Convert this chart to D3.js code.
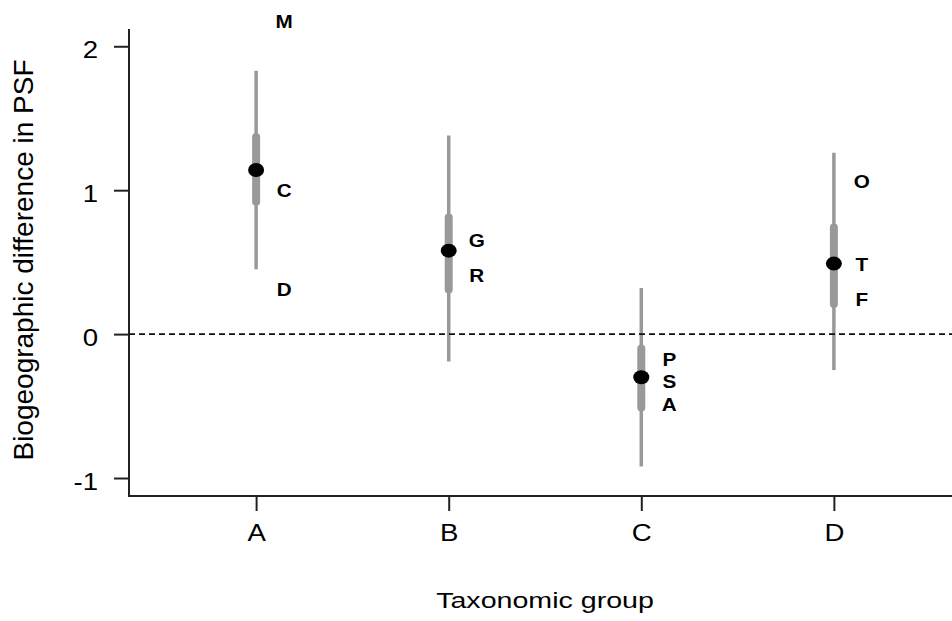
<!DOCTYPE html>
<html>
<head>
<meta charset="utf-8">
<script src="https://cdn.jsdelivr.net/npm/d3@7"></script>
<style>
    body { margin: 0; background: #fff; }
    text { font-family: "Liberation Sans", Arial, sans-serif; fill: #000; }
</style>
</head>
<body>
<div id="graph"></div>
<script>
// values
const groups = ["A", "B", "C", "D"];
const estimate = [1.14, 0.58, -0.30, 0.49];
const outerLow = [0.45, -0.19, -0.92, -0.25];
const outerHigh = [1.83, 1.38, 0.32, 1.26];
const innerLow = [0.92, 0.31, -0.51, 0.21];
const innerHigh = [1.37, 0.81, -0.10, 0.74];

const taxonLabels = ["M", "C", "D", "G", "R", "P", "S", "A", "O", "T", "F"];
const taxonGroup = ["A", "A", "A", "B", "B", "C", "C", "C", "D", "D", "D"];
const taxonValue = [2.17, 1.0, 0.31, 0.65, 0.41, -0.18, -0.33, -0.49, 1.06, 0.48, 0.24];

const yTicks = [-1, 0, 1, 2];

var width = 952,
    height = 621;

var svg = d3.select("#graph")
    .append("svg")
    .attr("width", width)
    .attr("height", height);

// group index 1..4 on a linear scale, like base R
var x = d3.scaleLinear()
    .domain([0.34, 4.66])
    .range([129, 961]);

var y = d3.scaleLinear()
    .domain([-1.125, 2.12])
    .range([496, 29]);

var xPos = function (g) {
    return x(groups.indexOf(g) + 1);
};

// the source picture is stretched sideways, so horizontal text gets widened
function widen(sel, sx) {
    sel.each(function () {
        var t = d3.select(this);
        var tx = +t.attr("x") || 0;
        var ty = +t.attr("y") || 0;
        t.attr("x", 0).attr("y", 0)
            .attr("transform", "translate(" + tx + "," + ty + ") scale(" + sx + ",1)");
    });
}

// y axis
var yAxis = svg.append("g")
    .attr("transform", "translate(129,0)")
    .call(d3.axisLeft(y).tickValues(yTicks).tickSize(15).tickPadding(16)
        .tickFormat(function (d) { return String(d); }));
yAxis.select(".domain").remove();
yAxis.selectAll("line").attr("stroke", "#222").attr("stroke-width", 2);
yAxis.selectAll("text")
    .attr("font-size", 23)
    .attr("dy", "0.5em")
    .attr("font-family", "Liberation Sans, Arial, sans-serif")
    .attr("fill", "#111")
    .call(widen, 1.2);

// x axis
var xAxis = svg.append("g")
    .attr("transform", "translate(0,496)")
    .call(d3.axisBottom(x).tickValues([1, 2, 3, 4]).tickSize(15).tickPadding(14)
        .tickFormat(function (d) { return groups[d - 1]; }));
xAxis.select(".domain").remove();
xAxis.selectAll("line").attr("stroke", "#222").attr("stroke-width", 2);
xAxis.selectAll("text")
    .attr("font-size", 23)
    .attr("font-family", "Liberation Sans, Arial, sans-serif")
    .attr("fill", "#111")
    .call(widen, 1.2);

// L shaped frame
svg.append("path")
    .attr("d", "M129," + y.range()[1] + "V" + y.range()[0] + "H" + width)
    .attr("fill", "none")
    .attr("stroke", "#222")
    .attr("stroke-width", 2);

// outer intervals
svg.selectAll(".outer")
    .data(groups)
    .enter()
    .append("line")
    .attr("class", "outer")
    .attr("x1", function (d) { return xPos(d); })
    .attr("x2", function (d) { return xPos(d); })
    .attr("y1", function (d, i) { return y(outerLow[i]); })
    .attr("y2", function (d, i) { return y(outerHigh[i]); })
    .attr("stroke", "#999")
    .attr("stroke-width", 3.5);

// inner intervals
svg.selectAll(".inner")
    .data(groups)
    .enter()
    .append("line")
    .attr("class", "inner")
    .attr("x1", function (d) { return xPos(d); })
    .attr("x2", function (d) { return xPos(d); })
    .attr("y1", function (d, i) { return y(innerLow[i]); })
    .attr("y2", function (d, i) { return y(innerHigh[i]); })
    .attr("stroke", "#999")
    .attr("stroke-width", 8)
    .attr("stroke-linecap", "round");

// zero line
svg.append("line")
    .attr("x1", 129)
    .attr("x2", width)
    .attr("y1", y(0))
    .attr("y2", y(0))
    .attr("stroke", "#111")
    .attr("stroke-width", 1.6)
    .attr("stroke-dasharray", "6,4");

// point estimates
svg.selectAll(".est")
    .data(groups)
    .enter()
    .append("ellipse")
    .attr("class", "est")
    .attr("cx", function (d) { return xPos(d); })
    .attr("cy", function (d, i) { return y(estimate[i]); })
    .attr("rx", 8)
    .attr("ry", 7)
    .attr("fill", "#000");

// taxon letters
svg.selectAll(".taxon")
    .data(taxonLabels)
    .enter()
    .append("text")
    .attr("class", "taxon")
    .attr("x", function (d, i) { return xPos(taxonGroup[i]) + 28; })
    .attr("y", function (d, i) { return y(taxonValue[i]); })
    .attr("dy", "0.36em")
    .attr("text-anchor", "middle")
    .attr("font-size", 18)
    .attr("font-weight", "bold")
    .attr("fill", "#111")
    .text(function (d) { return d; })
    .call(widen, 1.15);

// axis titles
svg.append("text")
    .attr("transform", "translate(33,260) rotate(-90)")
    .attr("text-anchor", "middle")
    .attr("font-size", 28)
    .attr("fill", "#111")
    .text("Biogeographic difference in PSF");

svg.append("text")
    .attr("x", 545)
    .attr("y", 608)
    .attr("text-anchor", "middle")
    .attr("font-size", 22)
    .attr("fill", "#111")
    .text("Taxonomic group")
    .call(widen, 1.3);
</script>
</body>
</html>
